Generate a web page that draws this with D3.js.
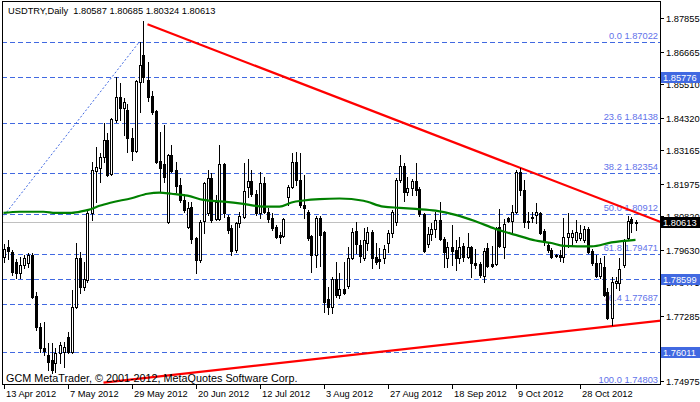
<!DOCTYPE html>
<html><head><meta charset="utf-8">
<script src="https://cdn.jsdelivr.net/npm/d3@7"></script>
<style>
html,body{margin:0;padding:0;background:#fff;}
svg{display:block;}
text{font-family:"Liberation Sans",Arial,sans-serif;}
</style>
</head><body>
<svg id="c" width="700" height="402"></svg>
<script>
// ---- data ----
const symbolTitle = "USDTRY,Daily";
const lastBarOHLC = [1.80587, 1.80685, 1.80324, 1.80613];
const copyrightText = "GCM MetaTrader, \u00A9 2001-2012, MetaQuotes Software Corp.";

// daily candles [open, high, low, close]
const candles = [
[1.7938,1.7984,1.7920,1.7966],[1.7973,1.7998,1.7931,1.7959],[1.7956,1.7963,1.7874,1.7885],[1.7920,1.7931,1.7863,1.7881],
[1.7881,1.7938,1.7863,1.7910],[1.7910,1.7945,1.7899,1.7934],[1.7917,1.7952,1.7902,1.7945],[1.7945,1.7952,1.7792,1.7796],
[1.7800,1.7814,1.7679,1.7690],[1.7690,1.7704,1.7601,1.7615],[1.7615,1.7707,1.7590,1.7604],[1.7590,1.7633,1.7537,1.7565],
[1.7572,1.7633,1.7526,1.7537],[1.7562,1.7615,1.7530,1.7597],[1.7597,1.7636,1.7562,1.7626],[1.7601,1.7636,1.7548,1.7618],
[1.7654,1.7672,1.7597,1.7601],[1.7601,1.7821,1.7597,1.7760],[1.7760,1.7988,1.7757,1.7934],[1.7934,1.7956,1.7810,1.7832],
[1.7832,1.7920,1.7821,1.7860],[1.7856,1.8101,1.7849,1.8094],[1.8094,1.8275,1.8069,1.8247],[1.8243,1.8329,1.8133,1.8258],
[1.8254,1.8307,1.8204,1.8293],[1.8293,1.8414,1.8275,1.8353],[1.8353,1.8378,1.8226,1.8229],[1.8233,1.8431,1.8229,1.8428],
[1.8424,1.8577,1.8417,1.8506],[1.8506,1.8556,1.8424,1.8467],[1.8467,1.8502,1.8371,1.8488],[1.8460,1.8481,1.8311,1.8360],
[1.8360,1.8396,1.8282,1.8314],[1.8314,1.8566,1.8311,1.8563],[1.8559,1.8701,1.8453,1.8620],[1.8655,1.8776,1.8559,1.8577],
[1.8566,1.8630,1.8492,1.8506],[1.8509,1.8527,1.8446,1.8453],[1.8456,1.8460,1.8272,1.8275],[1.8279,1.8382,1.8169,1.8254],
[1.8268,1.8407,1.8204,1.8222],[1.8062,1.8304,1.8059,1.8300],[1.8300,1.8336,1.8240,1.8243],[1.8247,1.8275,1.8169,1.8190],
[1.8194,1.8218,1.8133,1.8140],[1.8140,1.8162,1.8098,1.8105],[1.8044,1.8133,1.8041,1.8112],[1.8115,1.8133,1.7988,1.8002],
[1.8005,1.8009,1.7881,1.7927],[1.7927,1.8069,1.7920,1.8062],[1.8066,1.8204,1.8023,1.8201],[1.8094,1.8247,1.8087,1.8218],
[1.8218,1.8236,1.8062,1.8069],[1.8073,1.8158,1.8069,1.8133],[1.8073,1.8336,1.8069,1.8268],[1.8268,1.8272,1.8080,1.8094],
[1.8080,1.8087,1.8023,1.8034],[1.8041,1.8052,1.7945,1.7959],[1.7963,1.8062,1.7956,1.8059],[1.8059,1.8098,1.8044,1.8084],
[1.8080,1.8272,1.8076,1.8172],[1.8186,1.8286,1.8151,1.8208],[1.8208,1.8247,1.8155,1.8162],[1.8162,1.8176,1.8087,1.8094],
[1.8094,1.8240,1.8076,1.8201],[1.8201,1.8222,1.8094,1.8098],[1.8098,1.8112,1.8062,1.8073],[1.8076,1.8094,1.8034,1.8041],
[1.8044,1.8052,1.8005,1.8009],[1.8016,1.8027,1.7988,1.8009],[1.8013,1.8076,1.8009,1.8073],[1.8151,1.8194,1.8123,1.8186],
[1.8186,1.8307,1.8183,1.8275],[1.8275,1.8311,1.8194,1.8211],[1.8211,1.8307,1.8115,1.8123],[1.8123,1.8229,1.8076,1.8112],
[1.8098,1.8105,1.7998,1.8005],[1.8013,1.8016,1.7885,1.7945],[1.7945,1.8084,1.7902,1.8076],[1.8076,1.8084,1.7906,1.8016],
[1.8027,1.8030,1.7743,1.7778],[1.7789,1.7832,1.7736,1.7760],[1.7760,1.7867,1.7739,1.7860],[1.7860,1.7920,1.7796,1.7803],
[1.7803,1.7881,1.7792,1.7824],[1.7824,1.7920,1.7807,1.7810],[1.7835,1.7973,1.7828,1.7934],[1.7934,1.8041,1.7931,1.8027],
[1.8030,1.8062,1.7952,1.7984],[1.7981,1.7998,1.7920,1.7942],[1.7934,1.8041,1.7927,1.7998],[1.7988,1.8044,1.7963,1.8027],
[1.8027,1.8034,1.7899,1.7934],[1.7938,1.7988,1.7913,1.7920],[1.7931,1.7970,1.7899,1.7924],[1.7934,1.7981,1.7917,1.7966],
[1.7988,1.8034,1.7956,1.8023],[1.8023,1.8105,1.8009,1.8098],[1.8062,1.8218,1.8052,1.8211],[1.8211,1.8300,1.8204,1.8261],
[1.8261,1.8272,1.8137,1.8169],[1.8169,1.8222,1.8158,1.8183],[1.8183,1.8215,1.8158,1.8208],[1.8208,1.8272,1.8158,1.8176],
[1.8179,1.8186,1.8084,1.8091],[1.8091,1.8094,1.7956,1.7959],[1.7984,1.8044,1.7973,1.8020],[1.8020,1.8059,1.7998,1.8037],
[1.8037,1.8098,1.8009,1.8069],[1.8069,1.8133,1.7998,1.8002],[1.8002,1.8009,1.7902,1.7956],[1.7934,1.7991,1.7902,1.7973],
[1.7973,1.8052,1.7910,1.7959],[1.7963,1.7998,1.7892,1.7934],[1.7934,1.8009,1.7917,1.7973],[1.7977,1.7988,1.7924,1.7938],
[1.7938,1.8023,1.7934,1.7973],[1.7973,1.7977,1.7867,1.7917],[1.7917,1.7966,1.7899,1.7910],[1.7913,1.7920,1.7867,1.7874],
[1.7870,1.7970,1.7849,1.7959],[1.7970,1.7988,1.7902,1.7906],[1.7913,1.7977,1.7902,1.7906],[1.7913,1.8044,1.7910,1.8041],
[1.8044,1.8108,1.7973,1.7977],[1.7973,1.8073,1.7934,1.8055],[1.8076,1.8080,1.8062,1.8066],[1.8066,1.8123,1.8023,1.8098],
[1.8098,1.8247,1.8094,1.8240],[1.8240,1.8254,1.8158,1.8176],[1.8176,1.8211,1.8044,1.8062],[1.8066,1.8098,1.8041,1.8062],
[1.8080,1.8098,1.8062,1.8076],[1.8087,1.8130,1.8059,1.8098],[1.8094,1.8098,1.8020,1.8023],[1.8030,1.8037,1.7981,1.7991],
[1.7981,1.7991,1.7956,1.7963],[1.7963,1.7970,1.7934,1.7938],[1.7942,1.7948,1.7938,1.7945],[1.7945,1.7963,1.7924,1.7938],
[1.7938,1.8076,1.7920,1.8009],[1.8009,1.8094,1.7973,1.8023],[1.8009,1.8034,1.7981,1.8023],[1.7998,1.8069,1.7991,1.8027],
[1.8005,1.8052,1.7998,1.8023],[1.7998,1.8048,1.7991,1.8037],[1.8037,1.8044,1.7952,1.7956],[1.7959,1.7966,1.7910,1.7917],
[1.7917,1.7945,1.7867,1.7870],[1.7870,1.7934,1.7863,1.7917],[1.7902,1.7942,1.7800,1.7803],[1.7814,1.7828,1.7718,1.7721],
[1.7721,1.7867,1.7697,1.7849],[1.7846,1.7867,1.7828,1.7853],[1.7846,1.7934,1.7821,1.7895],[1.7910,1.8002,1.7902,1.7998],
[1.8005,1.8084,1.8002,1.8066],[1.8073,1.8080,1.8027,1.8059],[1.80587,1.80685,1.80324,1.80613]
];

// moving average (at sample bars)
const maBars   = [0,4,10,13,17,20,22,24,27,32,36,39,42,46,50,55,60,65,69,72,75,79,84,90,95,99,103,108,113,118,123,128,133,137,140,147,152,158];
const maValues = [1.8094,1.8098,1.8098,1.8094,1.8094,1.8101,1.8108,1.8119,1.8131,1.8146,1.8162,1.8166,1.8162,1.8155,1.8140,1.8134,1.8126,1.8116,1.8116,1.8131,1.8138,1.8143,1.8145,1.8137,1.8116,1.8112,1.8108,1.8102,1.8087,1.8064,1.8037,1.8016,1.7996,1.7987,1.7977,1.7975,1.7989,1.7998];

// x axis
const dateTickBars = [0,16,32,48,64,80,96,112,128,144];
const dateLabels = ["13 Apr 2012","7 May 2012","29 May 2012","20 Jun 2012","12 Jul 2012","3 Aug 2012","27 Aug 2012","18 Sep 2012","9 Oct 2012","28 Oct 2012"];
// y axis (ticks; the label of 1.76130 is fully covered by a price box in the original)
const priceTicks = [1.87855,1.86665,1.85510,1.84320,1.83165,1.81975,1.80820,1.79630,1.78475,1.77285,1.76130,1.74975];
const hiddenTickLabels = [1.76130];

// Fibonacci retracement
const fibLevels = ["0.0","23.6","38.2","50.0","61.8","76.4","100.0"];
const fibPrices = [1.87022,1.84138,1.82354,1.80912,1.79471,1.77687,1.74803];
const fibAnchorBars = [-33, 34];
const fibAnchorPrices = [1.74803, 1.87022];
// horizontal lines
const hLinePrices = [1.85776, 1.78599, 1.76011];
const bidPrice = 1.80613;
// trend lines (anchor bar, anchor price)
const upperTrendBars = [36, 158];
const upperTrendPrices = [1.8764, 1.8096];
const lowerTrendBars = [25, 158];
const lowerTrendPrices = [1.7491, 1.7701];

// ---- drawing ----
const svg = d3.select("#c");
const L = 2, R = 660, T = 1, B = 384;
const x = d3.scaleLinear().domain([0, 158]).range([3.5, 635.5]);
const y = d3.scaleLinear().domain([1.74975, 1.87855]).range([380.8, 18.2]);
const py = p => Math.round(y(p)) + 0.5;

svg.append("defs").append("clipPath").attr("id","clip")
  .append("rect").attr("x", L+0.5).attr("y", T+0.5).attr("width", R-L).attr("height", B-T);

const plot = svg.append("g").attr("clip-path","url(#clip)");

// bid line
plot.append("line").attr("x1",L).attr("x2",R).attr("y1",py(bidPrice)).attr("y2",py(bidPrice))
  .attr("stroke","#c0c0c0").attr("stroke-width",1);

const dashCol = "#4169e1";
// fib + horizontal dashed lines
fibPrices.concat(hLinePrices).forEach(p => {
  plot.append("line").attr("x1",L).attr("x2",R).attr("y1",py(p)).attr("y2",py(p))
    .attr("stroke",dashCol).attr("stroke-width",1).attr("stroke-dasharray","5,3");
});
// fib labels
fibLevels.forEach((lv,i) => {
  plot.append("text").attr("x",658).attr("y",py(fibPrices[i]) - 3.5)
    .attr("text-anchor","end").attr("font-size","9.3px").attr("fill","#6272ea")
    .text(lv + " " + fibPrices[i].toFixed(5));
});
// fib dotted base line
plot.append("line")
  .attr("x1",x(fibAnchorBars[0])).attr("y1",y(fibAnchorPrices[0]))
  .attr("x2",x(fibAnchorBars[1])).attr("y2",y(fibAnchorPrices[1]))
  .attr("stroke",dashCol).attr("stroke-width",1).attr("stroke-dasharray","2,2");

// trend lines (rays to the right edge)
function ray(bars, prices){
  const x1 = x(bars[0]), y1 = y(prices[0]), x2 = x(bars[1]), y2 = y(prices[1]);
  const slope = (y2-y1)/(x2-x1);
  const xe = R + 2;
  plot.append("line").attr("x1",x1).attr("y1",y1).attr("x2",xe).attr("y2",y1 + slope*(xe-x1))
    .attr("stroke","#ff0000").attr("stroke-width",2.2);
}
ray(upperTrendBars, upperTrendPrices);
ray(lowerTrendBars, lowerTrendPrices);

// copyright
svg.append("text").attr("x",6).attr("y",381.5).attr("font-size","10.8px").attr("fill","#000")
  .text(copyrightText);

// candles
const cg = plot.append("g");
candles.forEach((c,i) => {
  const [o,h,l,cl] = c;
  const cx = Math.round(x(i)) + 0.5;
  cg.append("line").attr("x1",cx).attr("x2",cx).attr("y1",Math.round(y(h))).attr("y2",Math.round(y(l))+1)
    .attr("stroke","#000").attr("stroke-width",1);
  const yt = Math.round(y(Math.max(o,cl))), yb = Math.round(y(Math.min(o,cl)));
  if (cl >= o) {
    cg.append("rect").attr("x",cx-1).attr("y",yt+0.5).attr("width",2).attr("height",Math.max(0,yb-yt))
      .attr("fill","#fff").attr("stroke","#000").attr("stroke-width",1);
  } else {
    cg.append("rect").attr("x",cx-1.5).attr("y",yt).attr("width",3).attr("height",Math.max(1,yb-yt+1))
      .attr("fill","#000");
  }
});

// moving average
plot.append("path")
  .datum(maBars.map((b,i)=>[b,maValues[i]]))
  .attr("d", d3.line().x(d=>x(d[0])).y(d=>y(d[1])).curve(d3.curveMonotoneX))
  .attr("fill","none").attr("stroke","#008000").attr("stroke-width",2.2);

// frame
svg.append("rect").attr("x",L+0.5).attr("y",T+0.5).attr("width",R-L).attr("height",B-T)
  .attr("fill","none").attr("stroke","#000").attr("stroke-width",1);

// header
svg.append("text").attr("x",8).attr("y",14).attr("font-size","9.3px").attr("fill","#000")
  .attr("xml:space","preserve").style("white-space","pre")
  .text(symbolTitle + "  " + lastBarOHLC.map(v=>v.toFixed(5)).join(" "));

// x axis
dateTickBars.forEach((b,i) => {
  const tx = Math.round(x(b)) + 0.5;
  svg.append("line").attr("x1",tx).attr("x2",tx).attr("y1",B).attr("y2",B+5).attr("stroke","#000");
  svg.append("text").attr("x",tx+1.5).attr("y",396.5).attr("font-size","9.3px").attr("fill","#000")
    .text(dateLabels[i]);
});

// y axis
priceTicks.forEach(p => {
  const ty = py(p);
  svg.append("line").attr("x1",R).attr("x2",R+4).attr("y1",ty).attr("y2",ty).attr("stroke","#000");
  if (!hiddenTickLabels.includes(p)) {
    svg.append("text").attr("x",666).attr("y",ty+3.3).attr("font-size","9.3px").attr("fill","#000")
      .text(p.toFixed(5));
  }
});
// price boxes
function box(p, fill){
  const yc = py(p);
  svg.append("rect").attr("x",661).attr("y",yc-5.5).attr("width",39).attr("height",11).attr("fill",fill);
  svg.append("text").attr("x",663).attr("y",yc+3.3).attr("font-size","9.3px").attr("fill","#fff").text(p.toFixed(5));
}
hLinePrices.forEach(p => box(p, "#4169e1"));
box(bidPrice, "#000");
</script>
</body></html>
